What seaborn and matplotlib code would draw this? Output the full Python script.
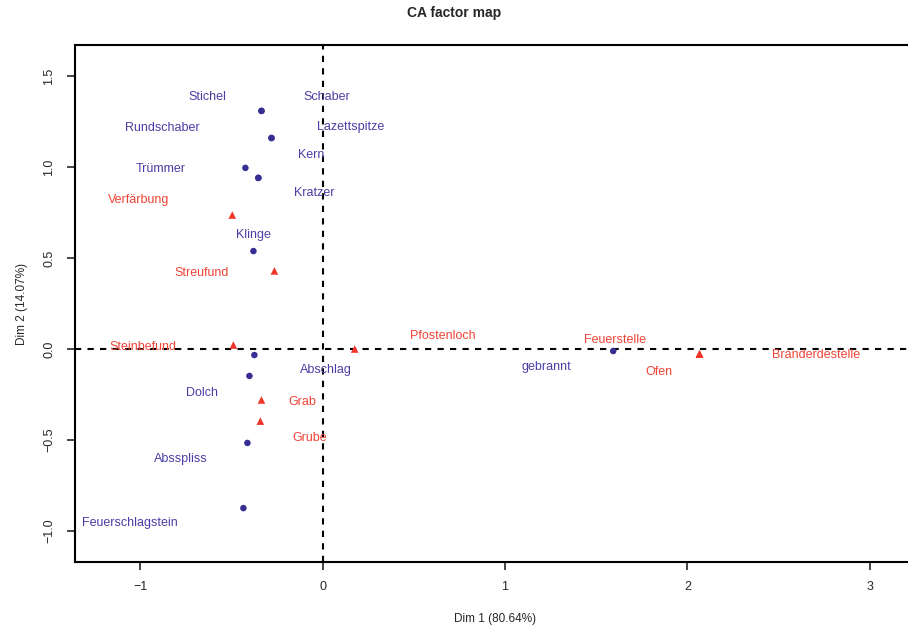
import pandas as pd
import matplotlib
matplotlib.use('Agg')
import matplotlib.pyplot as plt
import seaborn as sns

# row categories (artefacts)
row_names = ['Stichel', 'Schaber', 'Rundschaber', 'Lazettspitze', 'Kern', 'Trümmer',
             'Kratzer', 'Klinge', 'Abschlag', 'Dolch', 'Absspliss', 'Feuerschlagstein', 'gebrannt']
row_dim1 = [-0.335, -0.335, -0.280, -0.280, -0.352, -0.423, -0.352, -0.379, -0.374, -0.401, -0.412, -0.434, 1.593]
row_dim2 = [1.308, 1.308, 1.159, 1.159, 0.940, 0.995, 0.940, 0.538, -0.033, -0.148, -0.516, -0.874, -0.011]
# label positions (repelled)
row_lab1 = [-0.632, 0.022, -0.879, 0.154, -0.060, -0.890, -0.044, -0.379, 0.016, -0.659, -0.775, -1.055, 1.225]
row_lab2 = [1.385, 1.385, 1.214, 1.220, 1.066, 0.989, 0.857, 0.626, -0.115, -0.242, -0.604, -0.956, -0.099]

# column categories (features)
col_names = ['Verfärbung', 'Streufund', 'Steinbefund', 'Pfostenloch', 'Feuerstelle',
             'Grab', 'Grube', 'Ofen', 'Branderdestelle']
col_dim1 = [-0.495, -0.264, -0.489, 0.176, 2.066, -0.335, -0.341, 2.066, 2.066]
col_dim2 = [0.736, 0.429, 0.022, 0.000, -0.027, -0.280, -0.396, -0.027, -0.027]
col_lab1 = [-1.011, -0.665, -0.984, 0.659, 1.604, -0.110, -0.071, 1.846, 2.703]
col_lab2 = [0.819, 0.418, 0.011, 0.071, 0.049, -0.291, -0.489, -0.126, -0.033]

rows = pd.DataFrame({'name': row_names, 'x': row_dim1, 'y': row_dim2, 'lx': row_lab1, 'ly': row_lab2})
cols = pd.DataFrame({'name': col_names, 'x': col_dim1, 'y': col_dim2, 'lx': col_lab1, 'ly': col_lab2})

blue = '#372E93'
red = '#F0352A'

sns.set_style('white')
plt.rcParams['font.family'] = ['Liberation Sans', 'DejaVu Sans']

fig = plt.figure(figsize=(9.08, 6.27), dpi=100)
ax = fig.add_axes([75 / 908, 65 / 627, 840 / 908, 517 / 627])

ax.axhline(0, color='black', lw=1.5, ls=(0, (3, 3)), zorder=1)
ax.axvline(0, color='black', lw=1.5, ls=(0, (3, 3)), zorder=1)

sns.scatterplot(data=rows, x='x', y='y', marker='o', color=blue, s=22, edgecolor='none', ax=ax, zorder=3)
sns.scatterplot(data=cols, x='x', y='y', marker='^', color=red, s=30, edgecolor='none', ax=ax, zorder=2)

for _, r in rows.iterrows():
    ax.text(r['lx'], r['ly'], r['name'], color='#4A3EA6', fontsize=9, ha='center', va='center')
for _, r in cols.iterrows():
    ax.text(r['lx'], r['ly'], r['name'], color='#F04436', fontsize=9, ha='center', va='center')

ax.set_xlim(-1.357, 3.247)
ax.set_ylim(-1.170, 1.670)
ax.set_xticks([-1, 0, 1, 2, 3])
ax.set_xticklabels(['\u22121', '0', '1', '2', '3'])
ax.set_yticks([-1.0, -0.5, 0.0, 0.5, 1.0, 1.5])
ax.set_yticklabels(['\u22121.0', '\u22120.5', '0.0', '0.5', '1.0', '1.5'], rotation=90, va='center')
ax.tick_params(axis='both', which='both', direction='out', length=6, width=1.2, labelsize=9,
               bottom=True, left=True, pad=8)

for sp in ax.spines.values():
    sp.set_color('black')
    sp.set_linewidth(1.5)

ax.set_xlabel('Dim 1 (80.64%)', fontsize=8.5, labelpad=14)
ax.set_ylabel('Dim 2 (14.07%)', fontsize=8.5, labelpad=11)
fig.text(0.5, 1 - 13 / 627, 'CA factor map', ha='center', va='center', fontsize=10, fontweight='bold')

fig.savefig('out.png', dpi=100)
